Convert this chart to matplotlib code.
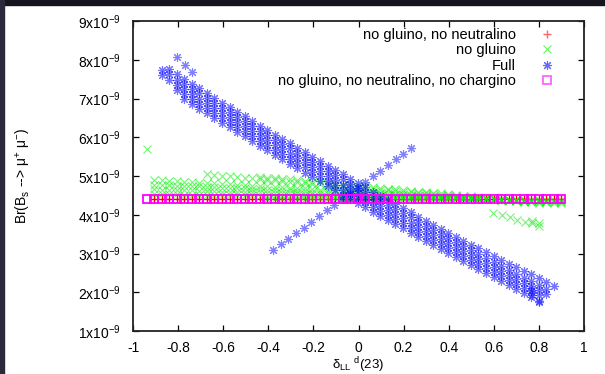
import matplotlib
matplotlib.use('Agg')
import matplotlib.pyplot as plt
from matplotlib.patches import Rectangle

plt.rcParams['font.family'] = ['Liberation Sans', 'DejaVu Sans']
plt.rcParams['mathtext.fontset'] = 'custom'
plt.rcParams['mathtext.rm'] = 'Liberation Sans'
plt.rcParams['mathtext.it'] = 'Liberation Sans:italic'

# scan grid in delta_LL^d(23)
X = [-0.940, -0.907, -0.873, -0.840, -0.806, -0.773, -0.739, -0.706, -0.672, -0.639,
     -0.605, -0.572, -0.539, -0.505, -0.472, -0.438, -0.405, -0.371, -0.338, -0.304,
     -0.271, -0.238, -0.204, -0.171, -0.137, -0.104, -0.070, -0.037, -0.003, 0.030,
     0.064, 0.097, 0.130, 0.164, 0.197, 0.231, 0.264, 0.298, 0.331, 0.365,
     0.398, 0.432, 0.465, 0.498, 0.532, 0.565, 0.599, 0.632, 0.666, 0.699,
     0.733, 0.766, 0.800, 0.833, 0.867, 0.900]

# all Br values in units of 1e-9
# no gluino, no neutralino  (starts at grid index 1)
nogn_start = 1
nogn_y = [4.41] * 55

# no gluino: several scan lines (start index, values)
gl_1 = (1, [4.90, 4.89, 4.88, 4.86, 4.85, 4.84, 4.83, 4.82, 4.81, 4.80,
            4.79, 4.78, 4.76, 4.75, 4.74, 4.73, 4.72, 4.71, 4.70, 4.69,
            4.68, 4.67, 4.65, 4.64, 4.63, 4.62, 4.61, 4.60, 4.59, 4.58,
            4.57, 4.56, 4.54, 4.53, 4.52, 4.51, 4.50, 4.49, 4.48, 4.47,
            4.46, 4.44, 4.43, 4.42, 4.41, 4.40, 4.39, 4.38, 4.37, 4.36,
            4.35, 4.33, 4.32, 4.31, 4.30])
gl_2 = (8, [5.04, 5.02, 5.00, 4.99, 4.97, 4.95, 4.94, 4.92, 4.90, 4.89,
            4.87, 4.85, 4.84, 4.82, 4.80, 4.79, 4.77, 4.75, 4.74, 4.72,
            4.70, 4.69, 4.67, 4.65, 4.64, 4.62, 4.60, 4.59, 4.57, 4.55,
            4.53, 4.52, 4.50, 4.48, 4.47, 4.45, 4.43, 4.42, 4.40, 4.38,
            4.37, 4.35, 4.33])
gl_3 = (15, [4.98, 4.96, 4.94, 4.93, 4.91, 4.89, 4.87, 4.85, 4.84, 4.82,
             4.80, 4.78, 4.76, 4.75, 4.73, 4.71, 4.69, 4.67, 4.66, 4.64,
             4.62, 4.60, 4.58, 4.57, 4.55, 4.53, 4.51, 4.49, 4.48, 4.46,
             4.44, 4.42, 4.40, 4.38, 4.37, 4.35, 4.33, 4.31])
gl_4 = (1, [4.78, 4.77, 4.76, 4.75, 4.74, 4.73, 4.73, 4.72, 4.71, 4.70,
            4.69, 4.68, 4.68, 4.67, 4.66, 4.65, 4.64, 4.63, 4.63, 4.62,
            4.61, 4.60, 4.59, 4.58, 4.58, 4.57, 4.56, 4.55, 4.54, 4.53,
            4.53, 4.52, 4.51, 4.50, 4.49, 4.48, 4.48, 4.47, 4.46, 4.45,
            4.44, 4.43, 4.43, 4.42, 4.41, 4.40, 4.39, 4.38, 4.38, 4.37,
            4.36, 4.35, 4.34, 4.33, 4.33])
gl_5 = (1, [4.66, 4.65, 4.64, 4.64, 4.63, 4.63, 4.62, 4.62, 4.61, 4.60,
            4.60, 4.59, 4.59, 4.58, 4.58, 4.57, 4.57, 4.56, 4.55, 4.55,
            4.54, 4.54, 4.53, 4.53, 4.52, 4.51, 4.51, 4.50, 4.50, 4.49,
            4.49, 4.48, 4.47, 4.47, 4.46, 4.46, 4.45, 4.45, 4.44, 4.43,
            4.43, 4.42, 4.42, 4.41, 4.41, 4.40, 4.39, 4.39, 4.38, 4.38,
            4.37, 4.37, 4.36, 4.35, 4.35])
gl_6 = (1, [4.54, 4.53, 4.53, 4.53, 4.52, 4.52, 4.52, 4.51, 4.51, 4.51,
            4.51, 4.50, 4.50, 4.50, 4.49, 4.49, 4.49, 4.48, 4.48, 4.48,
            4.48, 4.47, 4.47, 4.47, 4.46, 4.46, 4.46, 4.45, 4.45, 4.45,
            4.45, 4.44, 4.44, 4.44, 4.43, 4.43, 4.43, 4.42, 4.42, 4.42,
            4.42, 4.41, 4.41, 4.41, 4.40, 4.40, 4.40, 4.39, 4.39, 4.39,
            4.39, 4.38, 4.38, 4.38, 4.37])
gl_7 = (16, [4.41] * 29)
gl_lines = [gl_1, gl_2, gl_3, gl_4, gl_5, gl_6, gl_7]
gl_extra_x = [-0.939, 0.598, 0.635, 0.672, 0.701, 0.738, 0.768, 0.768, 0.802, 0.802]
gl_extra_y = [5.70, 4.04, 3.99, 3.93, 3.86, 3.82, 3.78, 3.84, 3.71, 3.78]

# Full
full_1 = (3, [7.75, 7.62, 7.50, 7.38, 7.26, 7.14, 7.02, 6.89, 6.78, 6.66,
              6.54, 6.42, 6.30, 6.19, 6.07, 5.95, 5.84, 5.72, 5.61, 5.49,
              5.38, 5.27, 5.16, 5.04, 4.93, 4.82, 4.71, 4.60, 4.49, 4.38,
              4.27, 4.17, 4.06, 3.95, 3.85, 3.74, 3.63, 3.53, 3.42, 3.32,
              3.22, 3.13, 3.04, 2.93, 2.84, 2.74, 2.65, 2.55, 2.46, 2.36,
              2.27, 2.17])
full_2 = (2, [7.74, 7.62, 7.49, 7.37, 7.25, 7.13, 7.01, 6.89, 6.76, 6.65,
              6.53, 6.41, 6.29, 6.17, 6.06, 5.94, 5.82, 5.71, 5.59, 5.48,
              5.36, 5.25, 5.14, 5.03, 4.91, 4.80, 4.69, 4.58, 4.47, 4.36,
              4.25, 4.14, 4.04, 3.93, 3.82, 3.72, 3.61, 3.50, 3.40, 3.29,
              3.19, 3.09, 2.99, 2.89, 2.78, 2.68, 2.58, 2.48, 2.38, 2.28,
              2.18, 2.08])
full_3 = (2, [7.61, 7.49, 7.36, 7.24, 7.12, 7.00, 6.88, 6.76, 6.63, 6.52,
              6.40, 6.28, 6.16, 6.04, 5.93, 5.81, 5.69, 5.58, 5.46, 5.35,
              5.23, 5.12, 5.01, 4.90, 4.78, 4.67, 4.56, 4.45, 4.34, 4.23,
              4.12, 4.01, 3.91, 3.80, 3.69, 3.59, 3.48, 3.37, 3.27, 3.16,
              3.06, 2.96, 2.86, 2.76, 2.65, 2.55, 2.45, 2.35, 2.25, 2.15,
              2.05, 1.95])
full_4 = (4, [7.23, 7.11, 6.99, 6.87, 6.75, 6.63, 6.50, 6.39, 6.27, 6.15,
              6.03, 5.91, 5.80, 5.68, 5.56, 5.45, 5.33, 5.22, 5.10, 4.99,
              4.88, 4.77, 4.65, 4.54, 4.43, 4.32, 4.21, 4.10, 3.99, 3.88,
              3.78, 3.67, 3.56, 3.46, 3.35, 3.24, 3.14, 3.03, 2.93, 2.83,
              2.73, 2.63, 2.52, 2.42, 2.32, 2.22, 2.12, 2.02, 1.92])
full_5 = (5, [6.98, 6.86, 6.74, 6.62, 6.50, 6.37, 6.26, 6.14, 6.02, 5.90,
              5.78, 5.67, 5.55, 5.43, 5.32, 5.20, 5.09, 4.97, 4.86, 4.75,
              4.64, 4.52, 4.41, 4.30, 4.19, 4.08, 3.97, 3.86, 3.75, 3.65,
              3.54, 3.43, 3.33, 3.22, 3.11, 3.01, 2.90, 2.80, 2.70, 2.60,
              2.50, 2.39, 2.29, 2.19, 2.09, 1.98, 1.88, 1.77])
full_lines = [full_1, full_2, full_3, full_4, full_5]
full_up_x = [-0.379, -0.345, -0.311, -0.277, -0.243, -0.209, -0.175, -0.141, -0.107, -0.073,
             -0.039, -0.005, 0.029, 0.063, 0.097, 0.131, 0.165, 0.199, 0.233]
full_up_y = [3.09, 3.24, 3.38, 3.53, 3.67, 3.82, 3.97, 4.11, 4.26, 4.40,
             4.55, 4.70, 4.84, 4.99, 5.13, 5.28, 5.43, 5.57, 5.72]
full_extra_x = [-0.806, -0.769, -0.740, 0.768, 0.802, 0.768]
full_extra_y = [8.08, 7.86, 7.69, 1.93, 1.76, 2.06]

# no gluino, no neutralino, no chargino
nognc_start = 0
nognc_y = [4.41] * 56

yticks = [1, 2, 3, 4, 5, 6, 7, 8, 9]
xticks = [-1, -0.8, -0.6, -0.4, -0.2, 0, 0.2, 0.4, 0.6, 0.8, 1]
xticklabels = ['-1', '-0.8', '-0.6', '-0.4', '-0.2', '0', '0.2', '0.4', '0.6', '0.8', '1']


def seg(start, ys):
    return X[start:start + len(ys)], ys


fig = plt.figure(figsize=(6.05, 3.74), dpi=100)
fig.patch.set_facecolor('white')
fig.patches.append(Rectangle((0, 1 - 5 / 374), 1, 5 / 374, transform=fig.transFigure,
                             color='#15141f', zorder=-5))
fig.patches.append(Rectangle((0, 0), 4 / 605, 1, transform=fig.transFigure,
                             color='#2b2a3c', zorder=-5))

ax = fig.add_axes([133 / 605, 43 / 374, 451 / 605, 310 / 374])

ms = 5.4
# red +
xs, ys = seg(nogn_start, nogn_y)
h1, = ax.plot(xs, ys, ls='none', marker='+', color='#ff0000', ms=ms, mew=1.0)

# green x
for st, vals in gl_lines:
    xs, ys = seg(st, vals)
    ax.plot(xs, ys, ls='none', marker='x', color='#00ee00', ms=ms, mew=0.8, alpha=0.55)
h2, = ax.plot(gl_extra_x, gl_extra_y, ls='none', marker='x', color='#00ee00', ms=ms,
              mew=0.8, alpha=0.55)

# blue asterisks
for st, vals in full_lines:
    xs, ys = seg(st, vals)
    ax.plot(xs, ys, ls='none', marker=(8, 2, 0), color='#0000ff', ms=6.5, mew=0.8, alpha=0.55)
ax.plot(full_up_x, full_up_y, ls='none', marker=(8, 2, 0), color='#0000ff', ms=6.5, mew=0.8,
        alpha=0.5)
h3, = ax.plot(full_extra_x, full_extra_y, ls='none', marker=(8, 2, 0), color='#0000ff', ms=6.5,
              mew=0.8, alpha=0.5)

# magenta squares
xs, ys = seg(nognc_start, nognc_y)
h4, = ax.plot(xs, ys, ls='none', marker='s', mfc='none', mec='#ff00ff', ms=5.8, mew=1.3)

ax.set_xlim(-1, 1)
ax.set_ylim(1, 9)
ax.set_xticks(xticks)
ax.set_xticklabels(xticklabels)
ax.set_yticks(yticks)
ax.set_yticklabels([r'$\mathregular{%dx10^{-9}}$' % v for v in yticks])
ax.tick_params(direction='in', top=True, right=True, length=4.5, width=0.9,
               labelsize=10, colors='black')
ax.tick_params(axis='x', pad=7)
ax.tick_params(axis='y', pad=9)
for s in ax.spines.values():
    s.set_linewidth(1.3)
    s.set_color('#222222')

ax.set_ylabel(r'Br(B$_{\mathregular{s}}$ --> μ$^{+}$ μ$^{-}$)', fontsize=10)
ax.yaxis.set_label_coords(-0.222, 0.5)
ax.set_xlabel(r'δ$_{\mathregular{LL}}$ $^{\mathregular{d}}$(23)', fontsize=9.5)
ax.xaxis.set_label_coords(0.5, -0.08)

leg = ax.legend([h1, h2, h3, h4],
                ['no gluino, no neutralino', 'no gluino', 'Full',
                 'no gluino, no neutralino, no chargino'],
                loc='upper right', bbox_to_anchor=(554 / 605, 1 - 28 / 374),
                bbox_transform=fig.transFigure, frameon=False, markerfirst=False,
                fontsize=10.5, handlelength=1.0, handletextpad=1.6, labelspacing=0.1,
                borderpad=0, borderaxespad=0)
for lh in leg.legend_handles:
    lh.set_alpha(0.6)

fig.savefig('out.png', dpi=100)
